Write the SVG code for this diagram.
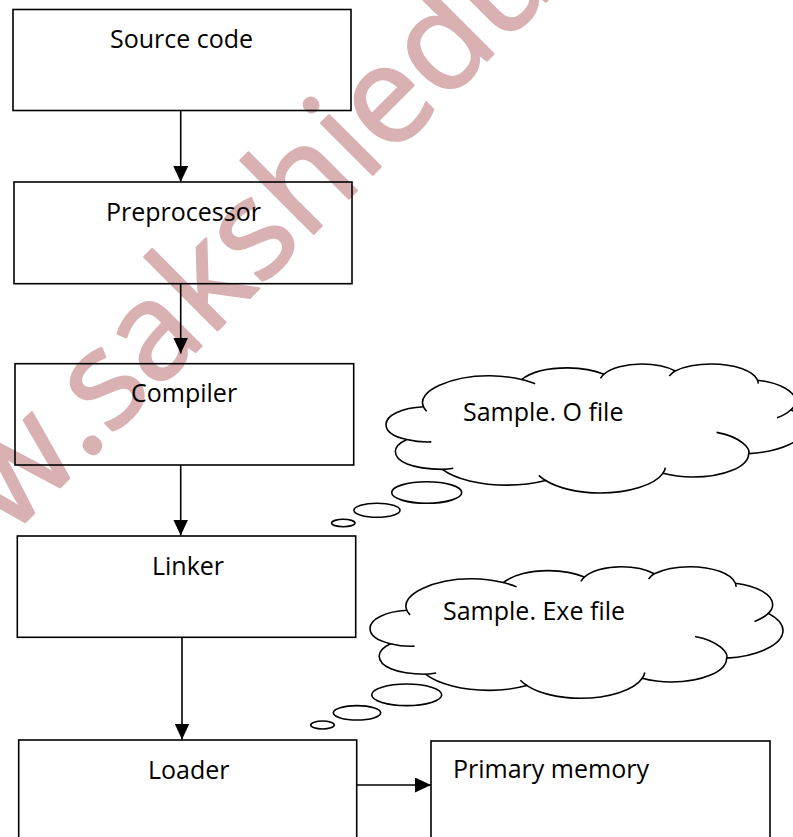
<svg xmlns="http://www.w3.org/2000/svg" xmlns:xlink="http://www.w3.org/1999/xlink" width="793" height="837" viewBox="0 0 793 837">
  <style>
    .box { fill: none; stroke: #000; stroke-width: 1.6; }
    .label { font-family: "Open Sans", "Noto Sans", sans-serif; font-size: 25px; fill: #000; }
    .link { fill: none; stroke: #000; stroke-width: 1.6; marker-end: url(#arrow); }
    .cloud { fill: none; stroke: #000; stroke-width: 1.6; vector-effect: non-scaling-stroke; stroke-linejoin: round; }
    .bubble { fill: none; stroke: #000; stroke-width: 1.6; }
    .mark { font-family: "Open Sans", "Noto Sans", sans-serif; font-size: 136px; fill: #d9b1b2; stroke: #d9b1b2; stroke-width: 2.5; stroke-linejoin: round; }
  </style>
  <defs>
    <marker id="arrow" markerUnits="userSpaceOnUse" markerWidth="16" markerHeight="15" refX="16" refY="7.5" orient="auto">
      <path d="M0,0 L16,7.5 L0,15 Z" fill="#000"/>
    </marker>
    <!-- thought-cloud outline, drawn in a 21600 x 21600 unit box -->
    <path id="cloudOutline" class="cloud" d="M1930,7160 C1530,4490 3400,1970 5270,1970 C5860,1950 6470,2210 6970,2600 C7450,1390 8340,650 9340,650 C10004,690 10710,1050 11210,1700 C11570,630 12330,0 13150,0 C13840,0 14470,460 14870,1160 C15330,440 16020,0 16740,0 C17910,0 18900,1130 19110,2710 C20240,3150 21060,4580 21060,6220 C21060,6720 21000,7200 20830,7660 C21310,8460 21600,9450 21600,10460 C21600,12750 20310,14680 18650,15010 C18650,17200 17370,18920 15770,18920 C15220,18920 14700,18710 14240,18310 C13820,20240 12490,21600 11000,21600 C9890,21600 8840,20790 8210,19510 C7620,20000 6930,20290 6240,20290 C4850,20290 3570,19280 2900,17640 C1300,17600 480,16300 480,14660 C480,13900 690,13210 1070,12640 C380,12160 0,11210 0,10120 C0,8590 840,7330 1930,7160 Z"/>
    <!-- small inner creases between the cloud's lobes -->
    <path id="cloudCreases" class="cloud" d="M1930,7160 C1950,7410 2040,7690 2090,7920 M6970,2600 C7200,2790 7480,3050 7670,3310 M11210,1700 C11130,1910 11080,2160 11030,2400 M14870,1160 C14720,1400 14640,1720 14570,2000 M19110,2710 C19130,2890 19150,3100 19140,3300 M20830,7660 C20660,8170 20430,8620 20110,8990 M18660,15010 C18740,14200 18280,12200 17000,11450 M14240,18310 C14320,17980 14350,17680 14370,17360 M8220,19510 C8060,19250 7960,18950 7860,18640 M2900,17640 C3090,17600 3280,17540 3460,17450 M1070,12640 C1400,12900 1780,13130 2330,13040"/>
  </defs>

  <!-- background watermark -->
  <text class="mark" transform="rotate(-45)" x="-372.7" y="387">w.sakshiedu</text>

  <g id="connectors">
    <line class="link" x1="180.7" y1="110.5" x2="180.7" y2="182"/>
    <line class="link" x1="180.7" y1="283.7" x2="180.7" y2="353.5"/>
    <line class="link" x1="180.7" y1="465" x2="180.7" y2="535.5"/>
    <line class="link" x1="182" y1="637.3" x2="182" y2="739.5"/>
    <line class="link" x1="356.7" y1="785" x2="431" y2="785"/>
  </g>

  <g id="source-code">
    <rect class="box" x="13" y="9.5" width="338" height="101"/>
    <text class="label" x="110" y="48.3">Source code</text>
  </g>

  <g id="preprocessor">
    <rect class="box" x="14" y="182" width="338" height="101.7"/>
    <text class="label" x="106" y="220.7">Preprocessor</text>
  </g>

  <g id="compiler">
    <rect class="box" x="15" y="363.7" width="338.7" height="101.3"/>
    <text class="label" x="131" y="401.7">Compiler</text>
  </g>

  <g id="linker">
    <rect class="box" x="17.3" y="536" width="338.4" height="101.3"/>
    <text class="label" x="152" y="575">Linker</text>
  </g>

  <g id="loader">
    <rect class="box" x="18.7" y="740" width="338" height="110"/>
    <text class="label" x="148" y="779.3">Loader</text>
  </g>

  <g id="primary-memory">
    <rect class="box" x="431" y="741" width="339" height="110"/>
    <text class="label" x="453" y="778.3">Primary memory</text>
  </g>

  <g id="object-file-cloud">
    <use xlink:href="#cloudOutline" transform="translate(386,364) scale(0.019444,0.005972)"/>
    <use xlink:href="#cloudCreases" transform="translate(386,364) scale(0.019444,0.005972)"/>
    <ellipse class="bubble" cx="426.7" cy="492.5" rx="35" ry="10.8"/>
    <ellipse class="bubble" cx="377" cy="510.3" rx="23" ry="7"/>
    <ellipse class="bubble" cx="343.3" cy="523" rx="11.7" ry="3.7"/>
    <text class="label" x="463" y="421">Sample. O file</text>
  </g>

  <g id="exe-file-cloud">
    <use xlink:href="#cloudOutline" transform="translate(370,566.7) scale(0.019120,0.006093)"/>
    <use xlink:href="#cloudCreases" transform="translate(370,566.7) scale(0.019120,0.006093)"/>
    <ellipse class="bubble" cx="406.7" cy="694.8" rx="35" ry="10.8"/>
    <ellipse class="bubble" cx="357" cy="712.8" rx="23.7" ry="7.2"/>
    <ellipse class="bubble" cx="322.5" cy="725" rx="11.8" ry="4"/>
    <text class="label" x="443" y="620">Sample. Exe file</text>
  </g>
</svg>
